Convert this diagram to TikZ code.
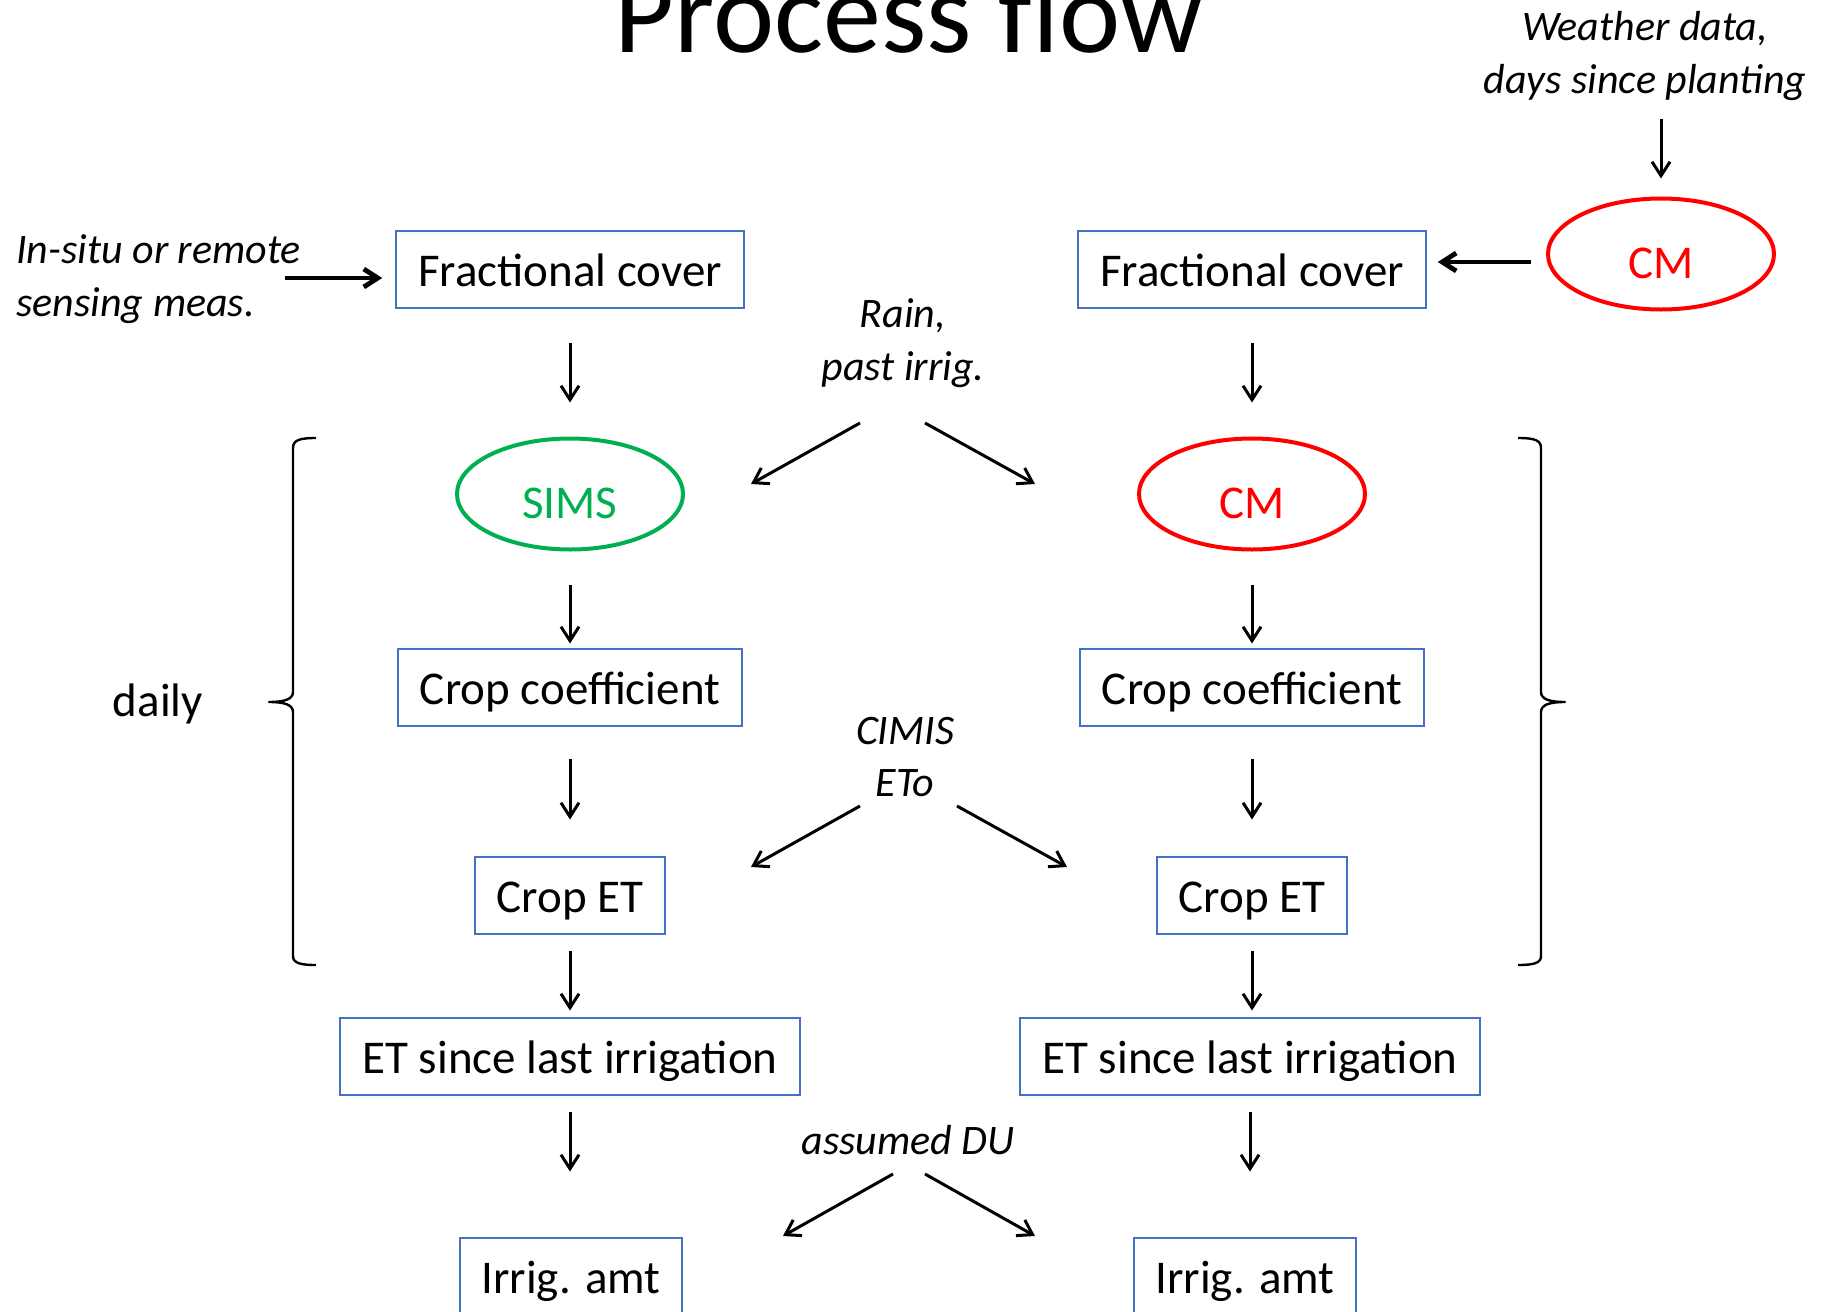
\documentclass[tikz,border=0pt]{standalone}
\usepackage{fontspec}
\setmainfont{Carlito}
\usetikzlibrary{shapes.geometric,arrows.meta}
\definecolor{boxblue}{HTML}{4472C4}
\definecolor{simsgreen}{HTML}{00B050}
\definecolor{cmred}{HTML}{FF0000}
\newcommand{\bodyfont}{\fontsize{23.5}{28}\selectfont}
\newcommand{\notefont}{\fontsize{21}{26.3}\selectfont\itshape}
\tikzset{
  flowbox/.style={draw=boxblue,line width=1pt,inner xsep=11pt,minimum height=38.5pt,
    text height=17pt,text depth=0pt,font=\bodyfont},
  model/.style={ellipse,line width=2pt,minimum width=113pt,minimum height=55.5pt,
    text height=24pt,text depth=0pt,font=\bodyfont},
  note/.style={font=\notefont,align=center,inner sep=0pt},
  flow/.style={-{Straight Barb[length=7pt,width=9pt]},line width=1.5pt},
  bold flow/.style={flow,line width=2.4pt},
  brace/.style={line width=1.2pt,line join=round}
}
\newcommand{\flowbox}[4][]{\node[flowbox,#1] at (#2) (#3) {#4}}
\newcommand{\modelnode}[4][]{\node[model,#1] at (#2) (#3) {#4}}
\newcommand{\flowdown}[4]{\draw[flow,shorten <=#3,shorten >=#4] (#1.south) -- (#1.south |- #2.north)}

\begin{document}
\begin{tikzpicture}[x=0.5pt,y=-0.5pt]
	\useasboundingbox (0,0) rectangle (1832,1312);
	\node[font=\fontsize{58}{70}\selectfont,anchor=base] (title) at (909,52) {Process flow};

	% inputs
	\node[note] (weather) at (1645,56) {Weather data,\\days since planting};
	\node[note,align=left,anchor=west] (insitu) at (16,279) {In-situ or remote\\sensing meas.};
	\node[note] (rain) at (903,343) {Rain,\\past irrig.};
	\node[note] (cimis) at (905,757) {CIMIS\\ETo};
	\node[note] (du) at (908,1140) {assumed DU};
	\node[font=\bodyfont] (daily) at (158,704) {daily};

	% models
	\modelnode[draw=cmred,text=cmred]{1661,254}{cmtop}{CM};
	\modelnode[draw=simsgreen,text=simsgreen]{570,494}{sims}{SIMS};
	\modelnode[draw=cmred,text=cmred]{1252,494}{cm}{CM};

	% two chains
	\flowbox{570,269}{fcL}{Fractional cover};
	\flowbox{1252,269}{fcR}{Fractional cover};
	\flowbox{570,687}{kcL}{Crop coefficient};
	\flowbox{1252,687}{kcR}{Crop coefficient};
	\flowbox{570,895}{etL}{Crop ET};
	\flowbox{1252,895}{etR}{Crop ET};
	\flowbox{570,1056}{sumL}{ET since last irrigation};
	\flowbox{1250,1056}{sumR}{ET since last irrigation};
	\flowbox{571,1276}{irrL}{Irrig. amt};
	\flowbox{1245,1276}{irrR}{Irrig. amt};

	\flowdown{fcL}{sims}{17pt}{17pt};
	\flowdown{fcR}{cm}{17pt}{17pt};
	\flowdown{sims}{kcL}{16.5pt}{2pt};
	\flowdown{cm}{kcR}{16.5pt}{2pt};
	\flowdown{kcL}{etL}{16pt}{18pt};
	\flowdown{kcR}{etR}{16pt}{18pt};
	\flowdown{etL}{sumL}{8pt}{3pt};
	\flowdown{etR}{sumR}{8pt}{3pt};
	\flowdown{sumL}{irrL}{8pt}{32.5pt};
	\flowdown{sumR}{irrR}{8pt}{32.5pt};

	% inputs into the chains
	\draw[flow,shorten <=9pt,shorten >=9pt] (cmtop.north |- weather.south) -- (cmtop.north);
	\draw[bold flow,shorten <=7.5pt,shorten >=5.5pt] ([yshift=-4pt]cmtop.west) -- ([yshift=3.5pt]fcR.east);
	\coordinate (insitu tip) at (285,278);
	\draw[bold flow,shorten >=6.5pt] (insitu tip) -- ([yshift=-4.5pt]fcL.west);

	\coordinate (rainL) at (860,423);
	\coordinate (rainR) at (925,423);
	\coordinate (simsin) at (751,484);
	\coordinate (cmin) at (1035,484);
	\draw[flow] (rainL) -- (simsin);
	\draw[flow] (rainR) -- (cmin);

	\coordinate (cimisL) at (860,806);
	\coordinate (cimisR) at (957,806);
	\coordinate (etLin) at (751,867);
	\coordinate (etRin) at (1067,867);
	\draw[flow] (cimisL) -- (etLin);
	\draw[flow] (cimisR) -- (etRin);

	\coordinate (duL) at (893,1174);
	\coordinate (duR) at (925,1174);
	\coordinate (irrLin) at (783,1236);
	\coordinate (irrRin) at (1035,1236);
	\draw[flow] (duL) -- (irrLin);
	\draw[flow] (duR) -- (irrRin);

	% daily braces
	\draw[brace] (316,438) .. controls (300,438) and (293,440) .. (293,448) -- (293,692)
		.. controls (293,699) and (285,702) .. (269,702)
		.. controls (285,702) and (293,705) .. (293,712) -- (293,956)
		.. controls (293,963) and (300,965) .. (316,965);
	\draw[brace] (1518,438) .. controls (1534,438) and (1541,440) .. (1541,448) -- (1541,692)
		.. controls (1541,699) and (1549,702) .. (1565,702)
		.. controls (1549,702) and (1541,705) .. (1541,712) -- (1541,956)
		.. controls (1541,963) and (1534,965) .. (1518,965);
\end{tikzpicture}
\end{document}
